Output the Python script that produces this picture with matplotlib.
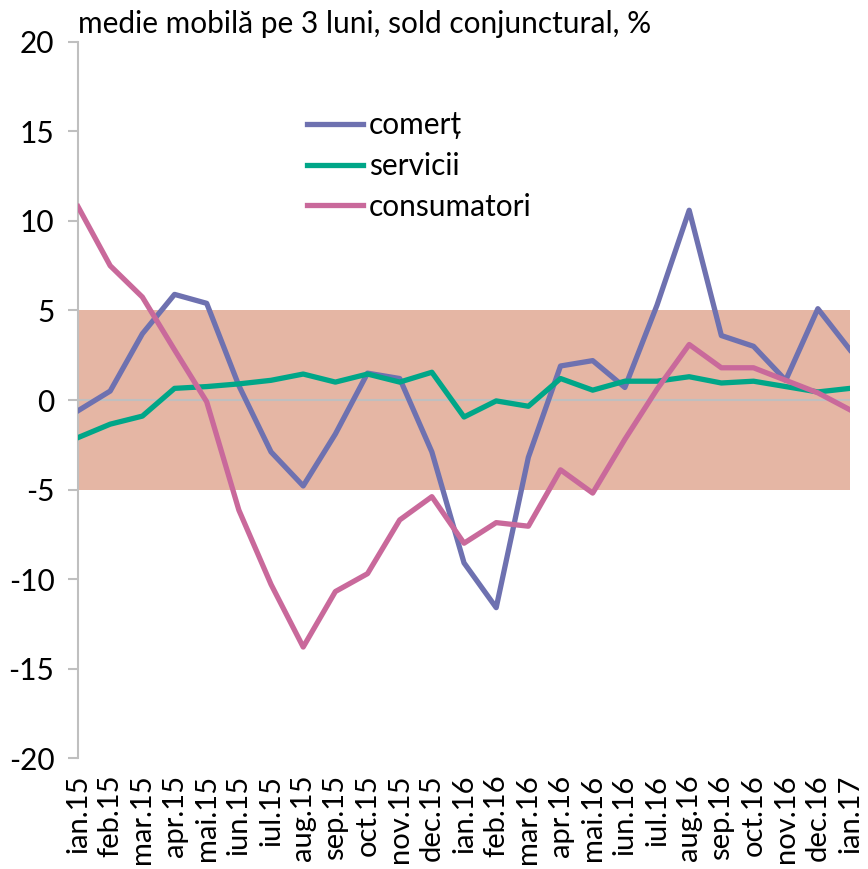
import matplotlib.pyplot as plt

months = ["ian.15", "feb.15", "mar.15", "apr.15", "mai.15", "iun.15", "iul.15",
          "aug.15", "sep.15", "oct.15", "nov.15", "dec.15", "ian.16", "feb.16",
          "mar.16", "apr.16", "mai.16", "iun.16", "iul.16", "aug.16", "sep.16",
          "oct.16", "nov.16", "dec.16", "ian.17"]

comert = [-0.6, 0.5, 3.7, 5.9, 5.4, 0.8, -2.9, -4.8, -1.9, 1.5, 1.2, -2.9, -9.1,
          -11.6, -3.2, 1.9, 2.2, 0.7, 5.3, 10.6, 3.6, 3.0, 1.1, 5.1, 2.8]
servicii = [-2.1, -1.35, -0.9, 0.65, 0.75, 0.9, 1.1, 1.45, 1.0, 1.45, 1.0, 1.55,
            -0.95, -0.05, -0.35, 1.2, 0.55, 1.05, 1.05, 1.3, 0.95, 1.05, 0.75,
            0.45, 0.65]
consumatori = [10.8, 7.5, 5.75, 2.8, -0.1, -6.15, -10.3, -13.8, -10.7, -9.7,
               -6.7, -5.4, -8.0, -6.85, -7.05, -3.9, -5.2, -2.2, 0.6, 3.1, 1.8,
               1.8, 1.1, 0.4, -0.55]

band_low, band_high = -5, 5

fig = plt.figure(figsize=(8.68, 8.69), dpi=100)
ax = fig.add_axes([0.0899, 0.1277, 0.8894, 0.824])

x = list(range(len(months)))
ax.axhspan(band_low, band_high, color="#E5B6A4", zorder=0, lw=0)
ax.axhline(0, color="#BFBFBF", lw=1.5, zorder=1)

ax.plot(x, comert, color="#6E71B0", lw=3.8, label="comerț", zorder=3)
ax.plot(x, servicii, color="#00A688", lw=3.8, label="servicii", zorder=3)
ax.plot(x, consumatori, color="#C9699B", lw=3.8, label="consumatori", zorder=3)

ax.set_xlim(0, len(months) - 1)
ax.set_ylim(-20, 20)
ax.set_yticks(range(-20, 21, 5))
ax.set_yticklabels([str(v) for v in range(-20, 21, 5)], fontsize=21.5,
                   fontfamily="Lato")
ax.set_xticks(x)
ax.set_xticklabels(months, rotation=90, fontsize=21, fontfamily="Lato")

for s in ["top", "right", "bottom"]:
    ax.spines[s].set_visible(False)
ax.spines["left"].set_color("#BFBFBF")
ax.spines["left"].set_linewidth(1.5)
ax.tick_params(axis="y", length=7, width=1.5, color="#BFBFBF", pad=10)
ax.tick_params(axis="x", length=0, pad=12)

ax.text(0.0, 1.005, "medie mobilă pe 3 luni, sold conjunctural, %",
        transform=ax.transAxes, fontsize=21.5, fontfamily="Lato",
        va="bottom", ha="left")

ax.legend(loc="upper left", bbox_to_anchor=(0.297, 0.903), frameon=False,
          prop={"family": "Lato", "size": 21.5}, handlelength=1.85,
          handletextpad=0.2, labelspacing=0.42, borderpad=0, borderaxespad=0)

fig.savefig("out.png", dpi=100)
